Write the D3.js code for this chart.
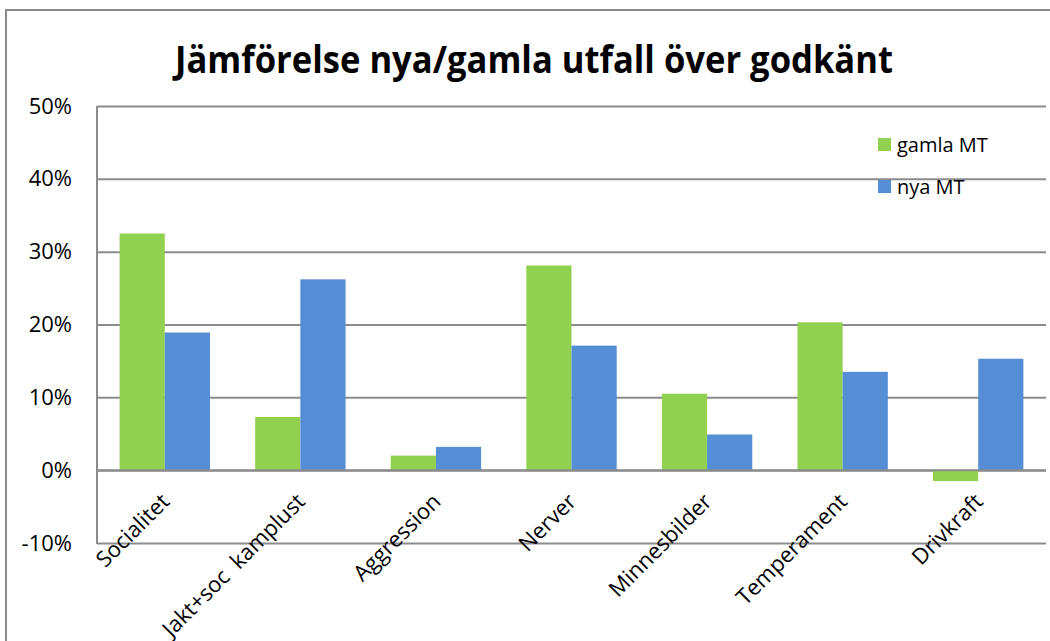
<!DOCTYPE html>
<html>
<head>
<meta charset="utf-8">
<script src="https://cdn.jsdelivr.net/npm/d3@7"></script>
<style>
  body { margin: 0; background: #fff; }
  text { font-family: "Open Sans", "Noto Sans", sans-serif; fill: #000; }
</style>
</head>
<body>
<svg id="chart" width="1050" height="641"></svg>
<script>
// Chart data
const categories = ["Socialitet", "Jakt+soc  kamplust", "Aggression", "Nerver", "Minnesbilder", "Temperament", "Drivkraft"];
const gamlaMT = [32.5, 7.3, 2.0, 28.1, 10.5, 20.3, -1.5];
const nyaMT = [18.9, 26.2, 3.2, 17.1, 4.9, 13.5, 15.3];
const seriesNames = ["gamla MT", "nya MT"];
const seriesColors = ["#92D050", "#558ED5"];
const yTicks = [-10, 0, 10, 20, 30, 40, 50];
const chartTitle = "Jämförelse nya/gamla utfall över godkänt";

const seriesValues = [gamlaMT, nyaMT];
const rows = categories.map((c, i) => ({
  category: c,
  values: seriesNames.map((s, j) => ({ series: s, value: seriesValues[j][i], color: seriesColors[j] }))
}));

const svg = d3.select("#chart");
const plot = { left: 97, right: 1046, top: 106, bottom: 543 };

// Outer chart frame
svg.append("rect")
  .attr("x", 6).attr("y", 10)
  .attr("width", 1100).attr("height", 700)
  .attr("fill", "none").attr("stroke", "#8c8c8c").attr("stroke-width", 2);

// Title, set in a slightly condensed width
svg.append("text")
  .attr("x", 534).attr("y", 73)
  .attr("text-anchor", "middle")
  .attr("textLength", 718)
  .attr("lengthAdjust", "spacingAndGlyphs")
  .style("font-weight", "bold")
  .style("font-size", "37px")
  .text(chartTitle);

const x = d3.scaleBand()
  .domain(categories)
  .range([plot.left, plot.right])
  .paddingInner(1 / 3)
  .paddingOuter(1 / 6);

const xSub = d3.scaleBand()
  .domain(seriesNames)
  .range([0, x.bandwidth()]);

const y = d3.scaleLinear()
  .domain([d3.min(yTicks), d3.max(yTicks)])
  .range([plot.bottom, plot.top]);

// Gridlines and value axis
const yAxis = svg.append("g")
  .attr("transform", `translate(${plot.left},0)`)
  .call(d3.axisLeft(y)
    .tickValues(yTicks)
    .tickSize(-(plot.right - plot.left))
    .tickPadding(25)
    .tickFormat(d => d + "%"));
yAxis.select(".domain").remove();
yAxis.selectAll(".tick line")
  .attr("stroke", "#8c8c8c").attr("stroke-width", 2);
yAxis.selectAll(".tick text")
  .style("font-size", "22px")
  .attr("fill", "#000");

// Bars
const groups = svg.append("g").selectAll("g")
  .data(rows)
  .join("g")
  .attr("transform", d => `translate(${x(d.category)},0)`);

groups.selectAll("rect")
  .data(d => d.values)
  .join("rect")
  .attr("x", d => xSub(d.series))
  .attr("width", xSub.bandwidth())
  .attr("y", d => y(Math.max(0, d.value)))
  .attr("height", d => Math.abs(y(d.value) - y(0)))
  .attr("fill", d => d.color);

// Category axis line at zero
svg.append("line")
  .attr("x1", plot.left).attr("x2", plot.right)
  .attr("y1", y(0)).attr("y2", y(0))
  .attr("stroke", "#8c8c8c").attr("stroke-width", 2);

// Left axis line
svg.append("line")
  .attr("x1", plot.left).attr("x2", plot.left)
  .attr("y1", plot.top).attr("y2", plot.bottom + 1)
  .attr("stroke", "#8c8c8c").attr("stroke-width", 2);

// Category labels, rotated
svg.append("g").selectAll("text")
  .data(categories)
  .join("text")
  .attr("transform", d => `translate(${x(d) + x.bandwidth() / 2 + 6},503) rotate(-45)`)
  .attr("text-anchor", "end")
  .style("font-size", "22px")
  .style("white-space", "pre")
  .text(d => d);

// Legend
const legend = svg.append("g").selectAll("g")
  .data(seriesNames)
  .join("g")
  .attr("transform", (d, i) => `translate(878,${138 + i * 42})`);
legend.append("rect")
  .attr("width", 13).attr("height", 13)
  .attr("fill", (d, i) => seriesColors[i]);
legend.append("text")
  .attr("x", 19).attr("y", 7)
  .attr("dy", "0.35em")
  .style("font-size", "20px")
  .text(d => d);
</script>
</body>
</html>
